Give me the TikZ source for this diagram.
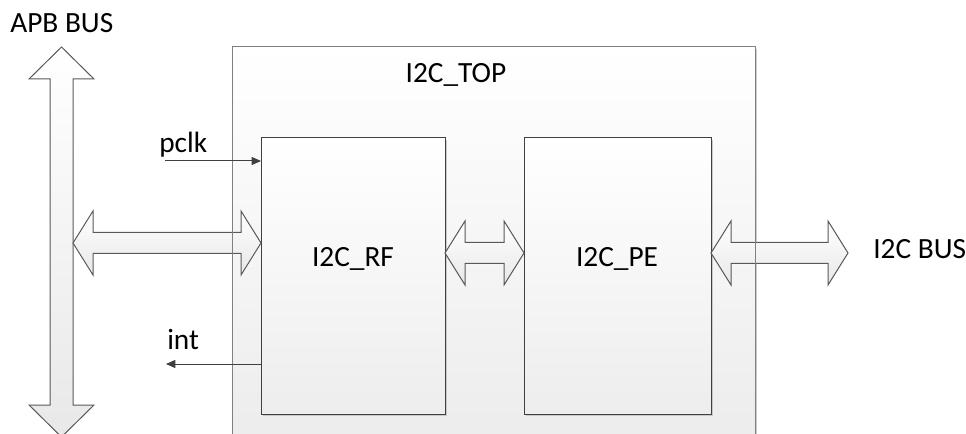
\documentclass[tikz,border=0pt]{standalone}
\usepackage{fontspec}
\setmainfont{Carlito}
\usetikzlibrary{arrows.meta,calc,shadows}

\tikzset{
  blk/.style={draw=black!75, line width=0.75pt, top color=white, bottom color=black!7,
    inner sep=0pt, outer sep=0pt,
    drop shadow={shadow xshift=1.5pt, shadow yshift=-1.5pt, fill=black!25, opacity=0.8}},
  topblk/.style={blk, draw=black!50, bottom color=black!8},
  bus/.style={draw=black!65, line width=0.75pt, top color=white, bottom color=black!9},
  sig/.style={draw=black!75, line width=0.75pt, -{Triangle[length=7pt,width=6pt]}},
  lbl/.style={font=\fontsize{22}{26}\selectfont, inner sep=0pt, anchor=base}
}

% horizontal double bus arrow between two points
\newcommand{\hbus}[2]{%
  \path (#1) coordinate (hbA) (#2) coordinate (hbB);
  \draw[bus] (hbA) -- ++(20,-32) -- ++(0,21.5) -- ($(hbB)+(-20,-10.5)$) -- ++(0,-21.5)
    -- (hbB) -- ++(-20,32) -- ++(0,-21.5) -- ($(hbA)+(20,10.5)$) -- ++(0,21.5) -- cycle;}

\begin{document}
\begin{tikzpicture}[x=0.75pt, y=-0.75pt]
  \useasboundingbox (0,0) rectangle (966,434);
  \clip (0,0) rectangle (966,434);

  % outer block
  \node[topblk, minimum width=392.25pt, minimum height=320pt, anchor=north west] (top) at (232,47) {};
  \node[lbl] (toptxt) at (456,83) {I2C\_TOP};

  % APB bus
  \draw[bus] (61.5,47) -- (94,79) -- (73,79) -- (73,405) -- (94,405) -- (61.5,437)
    -- (29,405) -- (50,405) -- (50,79) -- (29,79) -- cycle;
  \node[lbl, anchor=base west] (apbtxt) at (10,33) {APB BUS};

  % inner blocks
  \node[blk, minimum width=138pt, minimum height=207pt, anchor=north west] (rf) at (261,138) {};
  \node[blk, minimum width=140.25pt, minimum height=207pt, anchor=north west] (pe) at (524,138) {};
  \node[lbl] (rftxt) at (353,267) {I2C\_RF};
  \node[lbl] (petxt) at (617,267) {I2C\_PE};

  % bus links
  \coordinate (apb) at (73,243);
  \coordinate (i2c) at (848,253);
  \hbus{apb}{rf.west |- apb}
  \hbus{rf.east |- i2c}{pe.west |- i2c}
  \hbus{pe.east |- i2c}{i2c}
  \node[lbl, anchor=base west] (i2ctxt) at (873,259) {I2C BUS};

  \draw[draw=black!50, line width=0.75pt] (top.north west) rectangle (top.south east);

  % signals
  \coordinate (pclkin) at (165,161);
  \coordinate (intout) at (166,364);
  \draw[sig] (pclkin) -- (rf.west |- pclkin);
  \draw[sig] (rf.west |- intout) -- (intout);
  \node[lbl, anchor=base west] (pclktxt) at (159,153) {pclk};
  \node[lbl, anchor=base west] (inttxt) at (167,349) {int};
\end{tikzpicture}
\end{document}
